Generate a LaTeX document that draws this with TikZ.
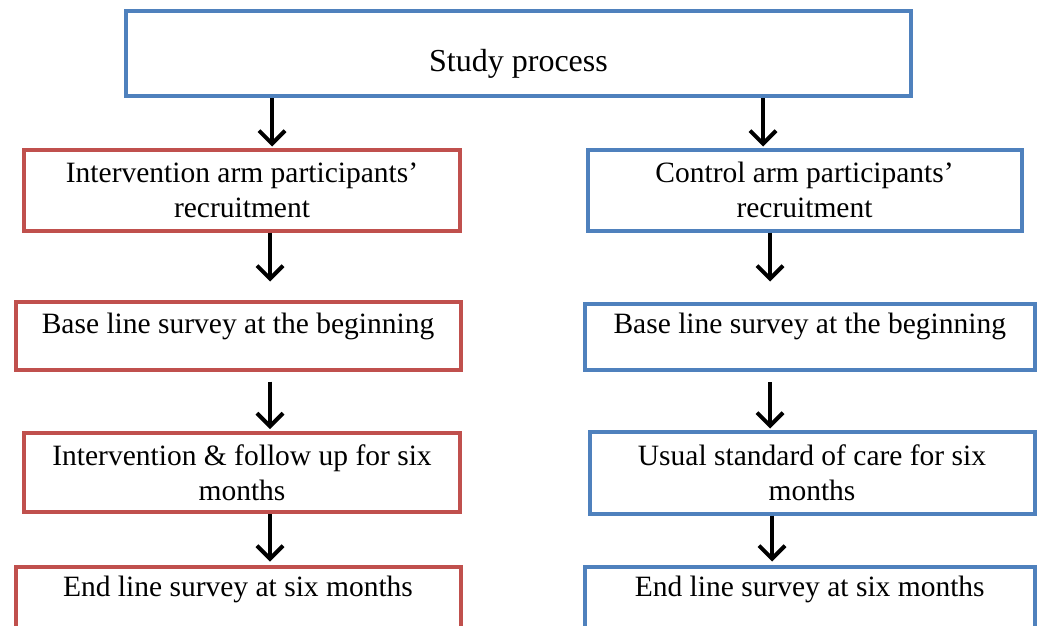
\documentclass[tikz,border=0pt]{standalone}
\usepackage{fontspec}
\setmainfont{Liberation Serif}
\usetikzlibrary{arrows.meta}
\definecolor{boxred}{RGB}{192,80,77}
\definecolor{boxblue}{RGB}{79,129,189}
\begin{document}
\begin{tikzpicture}[x=1pt,y=-1pt,
  box/.style={draw, line width=4pt, inner sep=0pt, align=center, anchor=center,
    font=\fontsize{29.5}{35}\selectfont},
  redbox/.style={box, draw=boxred},
  bluebox/.style={box, draw=boxblue},
  arr/.style={line width=4pt, -{Straight Barb[length=13pt, width=26pt]}}]
\clip (0,0) rectangle (1039,626);
\fill[white] (0,0) rectangle (1039,626);
% top
\node[bluebox, minimum width=785, minimum height=85, text height=42, text depth=7,
  font=\fontsize{32}{38}\selectfont] (top) at (518.5,53.5) {Study process};
% left column
\node[redbox, minimum width=436, minimum height=81] (L1) at (242,190)
  {Intervention arm participants’\\recruitment};
\node[redbox, minimum width=445, minimum height=68, text height=20, text depth=25] (L2) at (238,335.5)
  {Base line survey at the beginning};
\node[redbox, minimum width=436, minimum height=79] (L3) at (242,472.5)
  {Intervention \& follow up for six\\months};
\node[redbox, minimum width=445, minimum height=84, text height=20, text depth=44] (L4) at (238,608.5)
  {End line survey at six months};
% right column
\node[bluebox, minimum width=434, minimum height=81] (R1) at (804.5,190)
  {Control arm participants’\\recruitment};
\node[bluebox, minimum width=449.5, minimum height=66.5, text height=20, text depth=27] (R2) at (809.75,336.75)
  {Base line survey at the beginning};
\node[bluebox, minimum width=445, minimum height=82] (R3) at (812,472.5)
  {Usual standard of care for six\\months};
\node[bluebox, minimum width=449.5, minimum height=84, text height=20, text depth=44] (R4) at (809.75,608.5)
  {End line survey at six months};
% arrow x positions
\coordinate (ax1) at (272,0);
\coordinate (ax2) at (270,0);
\coordinate (bx1) at (763,0);
\coordinate (bx2) at (770,0);
\coordinate (bx3) at (772,0);
\draw[arr] (top.south -| ax1) -- ([yshift=1]L1.north -| ax1);
\draw[arr] (L1.south -| ax2) -- ([yshift=18]L2.north -| ax2);
\draw[arr] ([yshift=-10]L2.south -| ax2) -- ([yshift=2]L3.north -| ax2);
\draw[arr] (L3.south -| ax2) -- ([yshift=3]L4.north -| ax2);
\draw[arr] (top.south -| bx1) -- ([yshift=1]R1.north -| bx1);
\draw[arr] (R1.south -| bx2) -- ([yshift=20]R2.north -| bx2);
\draw[arr] ([yshift=-10]R2.south -| bx2) -- ([yshift=1]R3.north -| bx2);
\draw[arr] (R3.south -| bx3) -- ([yshift=3]R4.north -| bx3);
\end{tikzpicture}
\end{document}
